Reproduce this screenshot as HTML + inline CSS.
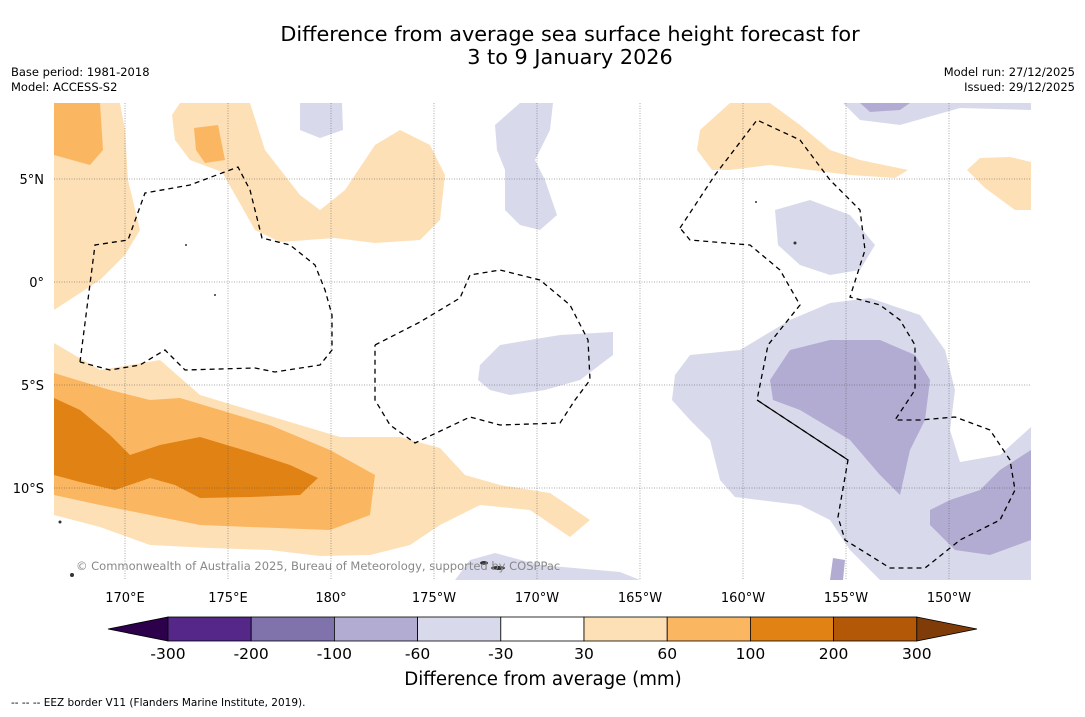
<!DOCTYPE html>
<html><head><meta charset="utf-8"><style>
body{margin:0;background:#fff;font-family:"DejaVu Sans",sans-serif}
svg text{font-family:"DejaVu Sans","Liberation Sans",sans-serif}
</style></head><body>
<svg width="1085" height="713" xmlns="http://www.w3.org/2000/svg">
<rect width="1085" height="713" fill="#fff"/>
<text x="570" y="41" font-size="20.8" text-anchor="middle">Difference from average sea surface height forecast for</text>
<text x="570" y="64" font-size="20.8" text-anchor="middle">3 to 9 January 2026</text>
<text x="11" y="76" font-size="11.5">Base period: 1981-2018</text>
<text x="11" y="91" font-size="11.5">Model: ACCESS-S2</text>
<text x="1075" y="76" font-size="11.5" text-anchor="end">Model run: 27/12/2025</text>
<text x="1075" y="91" font-size="11.5" text-anchor="end">Issued: 29/12/2025</text>
<defs><clipPath id="mc"><rect x="54" y="103" width="977" height="477"/></clipPath></defs>
<g clip-path="url(#mc)">
<g fill="#fde0b6">
<path d="M54,103L120,103L125,130L128,180L140,230L125,255L100,280L54,310Z"/>
<path d="M180,103L250,103L265,150L300,195L320,210L345,190L375,145L400,130L430,145L445,175L440,220L420,240L375,243L335,238L280,242L255,230L238,200L222,172L190,160L175,140L172,115Z"/>
<path d="M54,343L100,370L160,360L200,395L250,410L300,425L340,437L400,437L440,448L465,475L500,485L550,493L590,520L570,537L530,510L480,505L440,525L410,545L370,555L320,556L270,550L210,548L150,545L100,527L54,515Z"/>
<path d="M700,130L730,103L770,103L800,125L830,150L860,160L908,170L895,178L850,175L810,170L770,165L730,170L712,170L697,150Z"/>
<path d="M967,170L980,158L1010,157L1031,162L1031,210L1015,210L985,188Z"/>
</g>
<g fill="#fbb661">
<path d="M54,103L100,103L103,150L90,165L54,155Z"/>
<path d="M194,128L218,125L225,160L205,163L196,150Z"/>
<path d="M54,373L110,390L150,400L180,398L220,410L270,425L330,450L375,475L370,515L330,530L250,527L200,525L150,515L100,505L54,495Z"/>
</g>
<path fill="#e08214" d="M54,398L80,410L110,435L130,455L160,445L200,437L250,452L290,465L318,478L300,495L250,497L200,498L175,485L150,478L115,490L80,482L54,475Z"/>
<g fill="#d8daeb">
<path d="M300,103L342,103L343,130L320,138L300,130Z"/>
<path d="M495,125L520,103L553,103L550,130L535,160L545,180L557,215L540,230L520,225L505,210L505,170L497,150Z"/>
<path d="M775,210L810,200L850,215L875,245L860,270L830,275L800,265L778,245Z"/>
<path d="M843,103L1031,103L1031,110L960,108L900,125L860,120Z"/>
<path d="M480,365L500,345L560,335L613,332L613,355L580,380L545,390L510,395L490,390L478,380Z"/>
<path d="M675,375L690,355L740,350L790,320L830,303L870,298L920,315L945,350L955,390L950,430L960,462L1000,455L1031,427L1031,580L880,580L850,550L830,520L800,505L735,497L720,480L710,440L690,420L672,400Z"/>
<path d="M455,580L470,560L495,553L540,565L620,572L640,580Z"/>
</g>
<g fill="#b2abd2">
<path d="M860,103L910,103L900,110L870,112Z"/>
<path d="M770,380L790,350L830,340L880,340L915,355L930,380L925,420L910,450L900,495L880,475L850,440L800,410L773,400Z"/>
<path d="M930,510L950,500L980,490L1000,470L1031,450L1031,540L990,555L955,550L930,525Z"/>
<path d="M830,580L833,558L845,560L843,580Z"/>
</g>
<g stroke="#555" stroke-width="0.5" stroke-dasharray="1,1.5">
<line x1="125" y1="103" x2="125" y2="580"/><line x1="228" y1="103" x2="228" y2="580"/><line x1="331" y1="103" x2="331" y2="580"/><line x1="434" y1="103" x2="434" y2="580"/><line x1="537" y1="103" x2="537" y2="580"/><line x1="640" y1="103" x2="640" y2="580"/><line x1="743" y1="103" x2="743" y2="580"/><line x1="846" y1="103" x2="846" y2="580"/><line x1="949" y1="103" x2="949" y2="580"/>
<line x1="54" y1="179" x2="1031" y2="179"/><line x1="54" y1="282" x2="1031" y2="282"/><line x1="54" y1="385" x2="1031" y2="385"/><line x1="54" y1="488" x2="1031" y2="488"/>
</g>
<g fill="none" stroke="#000" stroke-width="1.3" stroke-dasharray="5,4">
<path d="M80,362L95,245L128,240L145,193L190,185L238,167L250,190L262,238L290,245L315,265L325,290L332,315L332,350L320,365L275,372L255,368L185,370L165,350L140,365L110,370L80,362"/>
<path d="M375,345L420,322L460,298L470,275L500,270L540,280L570,305L588,340L590,380L575,400L560,423L500,425L470,417L415,443L390,425L375,400L375,345"/>
<path d="M680,228L715,175L757,120L800,140L830,180L860,210L865,250L850,297L880,305L900,320L915,345L915,390L895,420L920,420L955,417L990,430L1010,460L1015,490L1000,520L960,540L925,568L890,568L845,540L838,517L848,460L757,400L768,345L800,305L780,270L750,245L690,240L680,228"/>
</g>
<path d="M757,400L848,460" stroke="#000" stroke-width="1.2" fill="none"/>
<g fill="#333">
<ellipse cx="498" cy="568" rx="7" ry="2"/><ellipse cx="484" cy="563" rx="4" ry="2"/><circle cx="186" cy="245" r="1"/><circle cx="215" cy="295" r="1"/><circle cx="795" cy="243" r="1.5"/><circle cx="756" cy="202" r="1"/><circle cx="72" cy="575" r="2"/><circle cx="60" cy="522" r="1.5"/>
</g>
</g>
<text x="76" y="570" font-size="11.5" fill="#888">© Commonwealth of Australia 2025, Bureau of Meteorology, supported by COSPPac</text>
<g font-size="13">
<text x="125" y="602" text-anchor="middle">170°E</text><text x="228" y="602" text-anchor="middle">175°E</text><text x="331" y="602" text-anchor="middle">180°</text><text x="434" y="602" text-anchor="middle">175°W</text><text x="537" y="602" text-anchor="middle">170°W</text><text x="640" y="602" text-anchor="middle">165°W</text><text x="743" y="602" text-anchor="middle">160°W</text><text x="846" y="602" text-anchor="middle">155°W</text><text x="949" y="602" text-anchor="middle">150°W</text>
<text x="44" y="184" text-anchor="end">5°N</text><text x="44" y="287" text-anchor="end">0°</text><text x="44" y="390" text-anchor="end">5°S</text><text x="44" y="493" text-anchor="end">10°S</text>
</g>
<g id="cbar"></g>
<text x="543" y="685" font-size="18.2" text-anchor="middle">Difference from average (mm)</text>
<text x="11" y="706" font-size="10.5">--  --  -- EEZ border V11 (Flanders Marine Institute, 2019).</text>
</svg>
<script>
const levels=["-300","-200","-100","-60","-30","30","60","100","200","300"];
const colors=["#542788","#8073ac","#b2abd2","#d8daeb","#ffffff","#fde0b6","#fbb661","#e08214","#b35806"];
const g=document.getElementById('cbar');const ns="http://www.w3.org/2000/svg";
const x0=168,w=83.2,y0=617,h=24;
function mk(t,a){const e=document.createElementNS(ns,t);for(const k in a)e.setAttribute(k,a[k]);g.appendChild(e);return e;}
let tl=mk('polygon',{points:`108,629 ${x0},${y0} ${x0},${y0+h}`,fill:'#2d004b',stroke:'#000','stroke-width':0.8});


colors.forEach((c,i)=>{const r=mk('rect',{x:x0+i*w,y:y0,width:w,height:h,fill:c,stroke:'#000','stroke-width':0.8});

});
const xe=x0+colors.length*w;
let tr=mk('polygon',{points:`${xe},${y0} 977,629 ${xe},${y0+h}`,fill:'#7f3b08',stroke:'#000','stroke-width':0.8});


levels.forEach((l,i)=>{const t=mk('text',{x:x0+i*w,y:659,'font-size':15.5,'text-anchor':'middle'});t.textContent=l;

});
</script>
</body></html>
